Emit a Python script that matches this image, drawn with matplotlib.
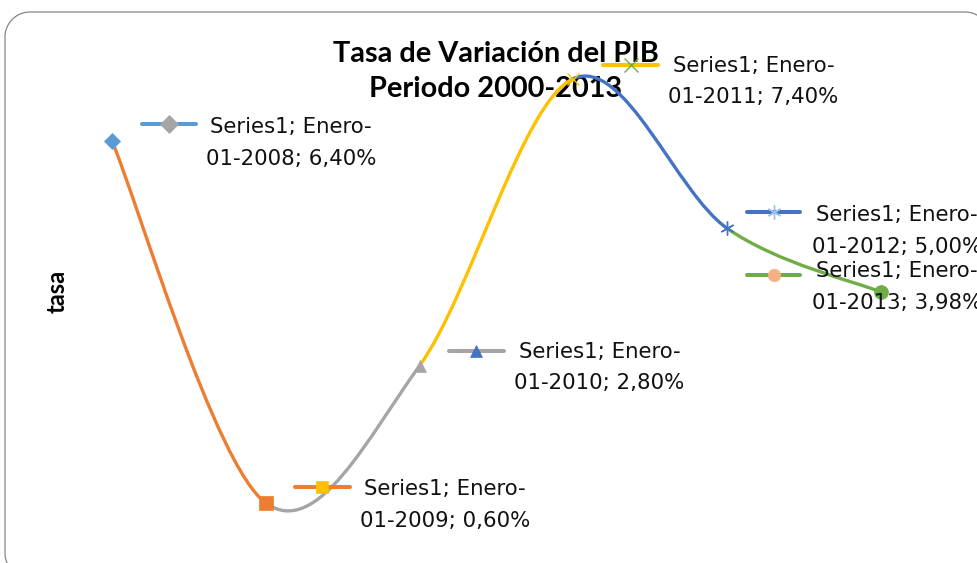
import matplotlib
matplotlib.use("Agg")
import matplotlib.pyplot as plt
from matplotlib.path import Path
from matplotlib.patches import PathPatch
from matplotlib.transforms import offset_copy
import numpy as np

# ---------------- data ----------------
years = [2008, 2009, 2010, 2011, 2012, 2013]
date_labels = ["01-2008", "01-2009", "01-2010", "01-2011", "01-2012", "01-2013"]
values = [6.40, 0.60, 2.80, 7.40, 5.00, 3.98]
series_name = "Series1"
month_name = "Enero"
title = "Tasa de Variación del PIB\nPeriodo 2000-2013"
ylabel = "tasa"

# ---------------- styles ----------------
point_colors = ["#5B9BD5", "#ED7D31", "#A5A5A5", "#FFC000", "#4472C4", "#70AD47"]
point_markers = ["D", "s", "^", "x", (6, 2, 0), "o"]
point_msize = [8, 10, 9, 9, 10, 10]
key_line_colors = ["#5B9BD5", "#ED7D31", "#A5A5A5", "#FFC000", "#4472C4", "#70AD47"]
key_marker_colors = ["#A5A5A5", "#FFC000", "#4472C4", "#70AD47", "#9DC3E6", "#F4B183"]
key_markers = ["D", "s", "^", "x", (6, 2, 0), "o"]

# label layout (pixel offsets from the point; y up)
text_offsets = [(179, -2), (179, -2), (180, -2), (180, -3), (170, -2.5), (16, 5)]
key_offsets = [(30, 84, 17), (29, 84, 16), (29, 84, 15), (30, 85, 14), (20, 73, 16), (-134, -81, 17)]

W, H, DPI = 977, 563, 100
fig = plt.figure(figsize=(W / DPI, H / DPI), dpi=DPI)
fig.patch.set_facecolor("white")

ax = fig.add_axes([0, 0, 1, 1])
ax.set_axis_off()
x_px_per = 153.8
y_px_per = 62.41
ax.set_xlim(2008 - 112 / x_px_per, 2013 + (W - 881) / x_px_per)
ax.set_ylim(0.6 - (H - 503) / y_px_per, 0.6 + 503 / y_px_per)

# chart frame: rounded rectangle, partly outside the picture (inches), as a polyline
L, R, T, B, r = 0.05, 9.90, 5.51, -0.15, 0.25
corners = [(R - r, T - r, 90, 0), (R - r, B + r, 0, -90),
           (L + r, B + r, 270, 180), (L + r, T - r, 180, 90)]
pts = []
for cx, cy, a0, a1 in corners:
    ang = np.radians(np.linspace(a0, a1, 24))
    pts.extend(zip(cx + r * np.cos(ang), cy + r * np.sin(ang)))
pts.append(pts[0])
fig.add_artist(PathPatch(Path(np.asarray(pts)), transform=fig.dpi_scale_trans,
                         fill=False, edgecolor="#868686", linewidth=0.9, zorder=-2))

# smoothed line (Excel-like cardinal Bezier), each segment coloured by its end point
n = len(years)
for i in range(n - 1):
    p0 = (years[max(i - 1, 0)], values[max(i - 1, 0)])
    p1 = (years[i], values[i])
    p2 = (years[i + 1], values[i + 1])
    p3 = (years[min(i + 2, n - 1)], values[min(i + 2, n - 1)])
    c1 = (p1[0] + (p2[0] - p0[0]) / 6, p1[1] + (p2[1] - p0[1]) / 6)
    c2 = (p2[0] - (p3[0] - p1[0]) / 6, p2[1] - (p3[1] - p1[1]) / 6)
    path = Path([p1, c1, c2, p2], [Path.MOVETO, Path.CURVE4, Path.CURVE4, Path.CURVE4])
    ax.add_patch(PathPatch(path, fill=False, edgecolor=point_colors[i + 1],
                           linewidth=2.4, capstyle="round", zorder=2))

# markers
for i in range(n):
    m = point_markers[i]
    filled = m not in ("x",) and not isinstance(m, tuple)
    ax.plot(years[i], values[i], linestyle="none", marker=m, markersize=point_msize[i],
            color=point_colors[i], markeredgecolor=point_colors[i],
            markeredgewidth=1.0 if not filled else 0.5, zorder=3)

# data labels with legend keys
for i in range(n):
    x, y = years[i], values[i]
    kx0, kx1, kdy = key_offsets[i]
    tr = offset_copy(ax.transData, fig=fig, x=0, y=kdy, units="dots")
    ax.plot([x + kx0 / x_px_per, x + kx1 / x_px_per], [y, y], transform=tr,
            color=key_line_colors[i], linewidth=2.9, solid_capstyle="round", zorder=4)
    km = key_markers[i]
    kfilled = km not in ("x",) and not isinstance(km, tuple)
    ax.plot([x + (kx0 + kx1) / 2 / x_px_per], [y], transform=tr, linestyle="none",
            marker=km, markersize=9 if kfilled else 10, color=key_marker_colors[i],
            markeredgecolor=key_marker_colors[i],
            markeredgewidth=0.5 if kfilled else 1.0, zorder=5)
    txt = f"{series_name}; {month_name}-\n{date_labels[i]}; {values[i]:.2f}%".replace(".", ",")
    tdx, tdy = text_offsets[i]
    ax.annotate(txt, xy=(x, y), xytext=(tdx, tdy), textcoords="offset pixels",
                ha="center", va="center", multialignment="center",
                fontsize=15.3, family="DejaVu Sans", color="#111111", linespacing=1.72,
                annotation_clip=False, zorder=6)

fig.text(496 / W, 1 - 41 / H, title, ha="center", va="top", fontsize=20.8,
         fontweight="bold", family="Lato", color="black", linespacing=1.42, zorder=-1)
fig.text(57 / W, 1 - 291 / H, ylabel, ha="center", va="center", rotation=90,
         fontsize=17, fontweight="bold", family="Lato", color="black")

fig.savefig("out.png", dpi=DPI, facecolor="white")
